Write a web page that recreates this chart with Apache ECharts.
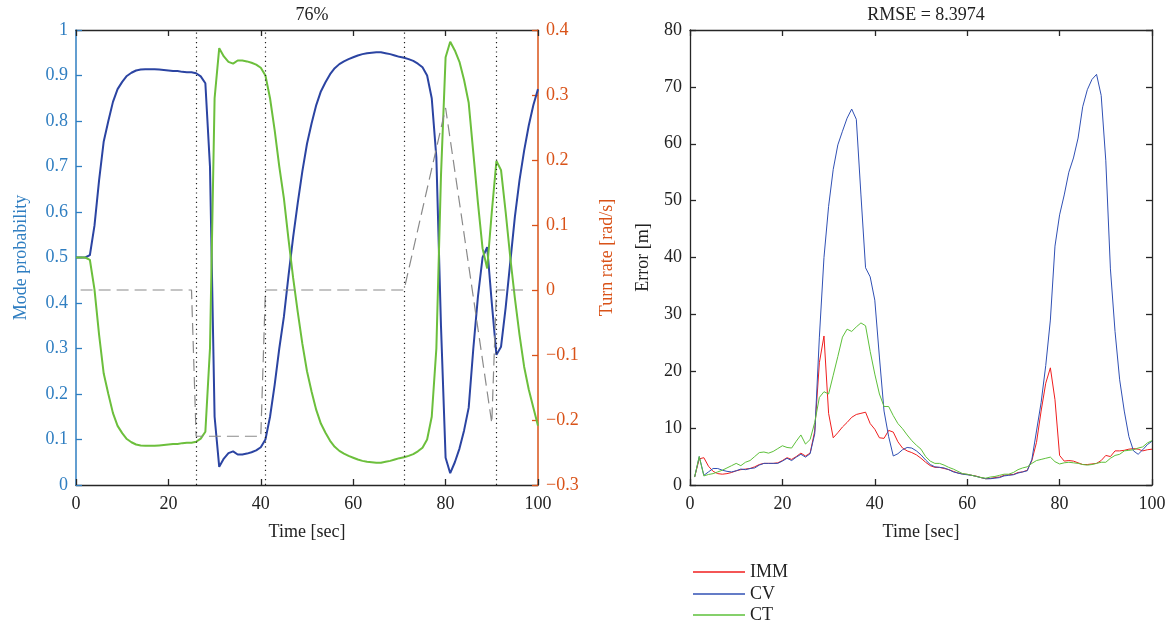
<!DOCTYPE html>
<html><head><meta charset="utf-8">
<script src="https://cdn.jsdelivr.net/npm/echarts@6/dist/echarts.min.js"></script>
<style>html,body{margin:0;padding:0;background:#fff}#c{width:1172px;height:626px}</style>
</head><body><div id="c"></div>
<script>
// ---------- data ----------
const modeTime = Array.from({length: 101}, (_, i) => i);
const cvModeProb = [
  0.5,0.5,0.5,0.505,0.57,0.67,0.755,0.80,0.842,0.87,
  0.886,0.899,0.906,0.911,0.913,0.914,0.914,0.914,0.913,0.912,
  0.911,0.910,0.910,0.908,0.907,0.907,0.905,0.898,0.883,0.70,
  0.15,0.04,0.058,0.07,0.074,0.067,0.067,0.069,0.072,0.076,
  0.083,0.10,0.15,0.22,0.30,0.37,0.46,0.545,0.62,0.69,
  0.75,0.795,0.835,0.865,0.885,0.903,0.916,0.925,0.931,0.936,
  0.94,0.944,0.947,0.949,0.95,0.951,0.951,0.949,0.947,0.944,
  0.941,0.939,0.936,0.932,0.926,0.918,0.90,0.85,0.72,0.35,
  0.06,0.026,0.05,0.08,0.12,0.17,0.30,0.414,0.50,0.523,
  0.40,0.286,0.304,0.39,0.49,0.59,0.67,0.735,0.79,0.835,
  0.87
];
const ctModeProb = [
  0.5,0.5,0.5,0.495,0.43,0.33,0.245,0.20,0.158,0.13,
  0.114,0.101,0.094,0.089,0.087,0.086,0.086,0.086,0.087,0.088,
  0.089,0.090,0.090,0.092,0.093,0.093,0.095,0.102,0.117,0.30,
  0.85,0.96,0.942,0.93,0.926,0.933,0.933,0.931,0.928,0.924,
  0.917,0.90,0.85,0.78,0.70,0.63,0.54,0.455,0.38,0.31,
  0.25,0.205,0.165,0.135,0.115,0.097,0.084,0.075,0.069,0.064,
  0.06,0.056,0.053,0.051,0.05,0.049,0.049,0.051,0.053,0.056,
  0.059,0.061,0.064,0.068,0.074,0.082,0.10,0.15,0.30,0.68,
  0.94,0.974,0.955,0.93,0.89,0.84,0.73,0.62,0.52,0.476,
  0.60,0.712,0.692,0.60,0.50,0.41,0.33,0.26,0.21,0.17,
  0.13
];
const switchTimes = [26, 41, 71, 91];
const turnTime = [1, 25, 26, 40, 41, 71, 80, 90, 91, 98];
const turnRate = [0, 0, -0.225, -0.225, 0, 0, 0.28, -0.205, 0, 0];

const errTime = Array.from({length: 100}, (_, i) => i + 1);
const errIMM = [
  1.4,4.6,4.8,3.3,2.4,2.0,1.9,2.0,2.2,2.5,
  2.7,2.8,2.9,3.2,3.6,3.8,3.8,3.8,3.9,4.3,
  4.8,4.5,5.0,5.6,5.1,5.6,9.5,21.5,26.2,12.6,
  8.3,9.2,10.2,11.0,11.9,12.4,12.6,12.8,10.8,9.8,
  8.3,8.2,9.6,9.3,7.6,6.5,6.0,5.7,5.3,4.7,
  4.0,3.4,3.1,3.1,2.9,2.7,2.4,2.1,1.95,1.85,
  1.7,1.55,1.3,1.1,1.15,1.3,1.4,1.7,1.8,1.85,
  2.2,2.3,2.6,4.3,7.5,13.0,17.9,20.6,15.0,5.2,
  4.2,4.3,4.2,3.9,3.6,3.6,3.7,3.8,4.3,5.2,
  5.0,6.0,6.0,6.1,6.3,6.4,6.3,6.0,6.2,6.3
];
const errCV = [
  1.4,5.0,1.7,2.3,2.9,2.9,2.6,2.4,2.3,2.5,
  2.8,2.7,2.9,3.0,3.5,3.8,3.8,3.8,3.8,4.2,
  4.7,4.3,4.9,5.4,4.9,5.5,9.0,26.0,40.0,49.0,
  55.5,59.8,62.2,64.5,66.1,64.3,51.0,38.2,36.6,32.5,
  22.5,13.0,8.5,5.1,5.5,6.2,6.6,6.5,6.0,5.3,
  4.4,3.6,3.2,3.1,3.0,2.7,2.3,2.1,1.9,1.8,
  1.7,1.5,1.3,1.1,1.1,1.2,1.3,1.6,1.7,1.8,
  2.1,2.3,2.5,4.5,9.5,14.5,21.0,29.0,42.0,47.5,
  51.0,55.0,57.5,61.0,66.5,69.5,71.3,72.2,68.5,57.0,
  38.0,27.0,18.5,13.0,8.5,6.0,5.4,6.2,7.1,7.7
];
const errCT = [
  1.4,5.0,1.6,1.85,2.0,2.3,2.6,3.0,3.4,3.8,
  3.4,4.0,4.3,5.0,5.7,5.8,5.6,5.9,6.4,6.9,
  6.6,6.5,7.7,8.8,7.2,8.0,11.0,15.4,16.4,16.0,
  19.3,22.6,26.0,27.4,27.0,27.8,28.5,28.0,23.5,19.5,
  16.0,13.8,13.8,12.2,10.8,9.9,8.8,7.8,7.0,6.3,
  5.0,4.2,3.8,3.8,3.5,3.1,2.8,2.4,2.0,1.9,
  1.7,1.5,1.3,1.2,1.4,1.5,1.7,1.9,1.9,2.2,
  2.7,3.0,3.2,3.8,4.3,4.5,4.7,4.9,4.1,3.7,
  3.9,4.0,3.9,3.8,3.6,3.5,3.6,3.8,4.0,4.0,
  4.7,5.2,5.4,6.0,6.1,6.2,6.5,6.7,7.4,7.8
];
const leftTitle = '76%';
const rightTitle = 'RMSE = 8.3974';
const seriesNames = ['IMM', 'CV', 'CT'];

// ---------- styles ----------
const FONT = 'Liberation Serif';
const BLUE_AX = '#2F7EC1';
const ORANGE = '#D95319';
const DARK = '#262626';
const pair = (xs, ys) => xs.map((x, i) => [x, ys[i]]);
const fmt = v => String(Math.round(v * 10) / 10).replace('-', '\u2212');

const baseX = (grid, pos, showLabel, name) => ({
  type: 'value', gridIndex: grid, position: pos, min: 0, max: 100, interval: 20,
  axisLine: {show: true, onZero: false, lineStyle: {color: DARK, width: 1.3}},
  axisTick: {show: true, inside: true, length: 6, lineStyle: {color: DARK, width: 1.3}},
  axisLabel: {show: showLabel, fontFamily: FONT, fontSize: 18, color: '#222', margin: 10},
  splitLine: {show: false},
  name: name || '', nameLocation: 'middle', nameGap: 38,
  nameTextStyle: {fontFamily: FONT, fontSize: 18, color: '#222'}
});
const legendTops = [558, 580, 601];
const legendOf = (name, i) => ({
  data: [name], orient: 'vertical', left: 688, top: legendTops[i],
  icon: 'rect', itemWidth: 52, itemHeight: 1.5, itemGap: 0,
  textStyle: {fontFamily: FONT, fontSize: 18, color: '#222'}
});

const option = {
  animation: false,
  backgroundColor: '#fff',
  title: [
    {text: leftTitle, left: 307, top: 1, textAlign: 'center',
     textStyle: {fontFamily: FONT, fontSize: 18, fontWeight: 'normal', color: '#222'}},
    {text: rightTitle, left: 921, top: 1, textAlign: 'center',
     textStyle: {fontFamily: FONT, fontSize: 18, fontWeight: 'normal', color: '#222'}}
  ],
  legend: seriesNames.map(legendOf),
  grid: [
    {left: 76, right: 634, top: 30, bottom: 141},
    {left: 690, right: 20, top: 30, bottom: 141}
  ],
  xAxis: [
    baseX(0, 'bottom', true, 'Time [sec]'),
    baseX(0, 'top', false),
    baseX(1, 'bottom', true, 'Time [sec]'),
    baseX(1, 'top', false)
  ],
  yAxis: [
    {type: 'value', gridIndex: 0, position: 'left', min: 0, max: 1, interval: 0.1,
     axisLine: {show: true, onZero: false, lineStyle: {color: BLUE_AX, width: 1.5}},
     axisTick: {show: true, inside: true, length: 6, lineStyle: {color: BLUE_AX, width: 1.3}},
     axisLabel: {fontFamily: FONT, fontSize: 18, color: BLUE_AX, margin: 8, formatter: fmt},
     splitLine: {show: false},
     name: 'Mode probability', nameLocation: 'middle', nameRotate: 90, nameGap: 46,
     nameTextStyle: {fontFamily: FONT, fontSize: 18, color: BLUE_AX}},
    {type: 'value', gridIndex: 0, position: 'right', min: -0.3, max: 0.4, interval: 0.1,
     axisLine: {show: true, onZero: false, lineStyle: {color: ORANGE, width: 1.5}},
     axisTick: {show: true, inside: true, length: 6, lineStyle: {color: ORANGE, width: 1.3}},
     axisLabel: {fontFamily: FONT, fontSize: 18, color: ORANGE, margin: 8, formatter: fmt},
     splitLine: {show: false},
     name: 'Turn rate [rad/s]', nameLocation: 'middle', nameRotate: 90, nameGap: 60,
     nameTextStyle: {fontFamily: FONT, fontSize: 18, color: ORANGE}},
    {type: 'value', gridIndex: 1, position: 'left', min: 0, max: 80, interval: 10,
     axisLine: {show: true, onZero: false, lineStyle: {color: DARK, width: 1.3}},
     axisTick: {show: true, inside: true, length: 6, lineStyle: {color: DARK, width: 1.3}},
     axisLabel: {fontFamily: FONT, fontSize: 18, color: '#222', margin: 8},
     splitLine: {show: false},
     name: 'Error [m]', nameLocation: 'middle', nameRotate: 90, nameGap: 38,
     nameTextStyle: {fontFamily: FONT, fontSize: 18, color: '#222'}},
    {type: 'value', gridIndex: 1, position: 'right', min: 0, max: 80, interval: 10,
     axisLine: {show: true, onZero: false, lineStyle: {color: DARK, width: 1.3}},
     axisTick: {show: true, inside: true, length: 6, lineStyle: {color: DARK, width: 1.3}},
     axisLabel: {show: false}, splitLine: {show: false}}
  ],
  series: [
    {type: 'line', name: 'CV mode', xAxisIndex: 0, yAxisIndex: 0, data: pair(modeTime, cvModeProb),
     symbol: 'none', lineStyle: {color: '#2B44A2', width: 2}, itemStyle: {color: '#2B44A2'},
     markLine: {symbol: 'none', silent: true, label: {show: false},
       lineStyle: {type: [1.2, 3.5], color: '#222', width: 1.2},
       data: switchTimes.map(t => ({xAxis: t}))}},
    {type: 'line', name: 'CT mode', xAxisIndex: 0, yAxisIndex: 0, data: pair(modeTime, ctModeProb),
     symbol: 'none', lineStyle: {color: '#6CBF3C', width: 2}, itemStyle: {color: '#6CBF3C'}},
    {type: 'line', name: 'Turn rate', xAxisIndex: 0, yAxisIndex: 1, data: pair(turnTime, turnRate),
     symbol: 'none', lineStyle: {color: '#8A8A8A', width: 1.2, type: [12, 6]}, itemStyle: {color: '#8A8A8A'}},
    {type: 'line', name: 'IMM', xAxisIndex: 2, yAxisIndex: 2, data: pair(errTime, errIMM),
     symbol: 'none', lineStyle: {color: '#F01E1E', width: 1}, itemStyle: {color: '#F01E1E'}},
    {type: 'line', name: 'CV', xAxisIndex: 2, yAxisIndex: 2, data: pair(errTime, errCV),
     symbol: 'none', lineStyle: {color: '#3050B4', width: 1}, itemStyle: {color: '#3050B4'}},
    {type: 'line', name: 'CT', xAxisIndex: 2, yAxisIndex: 2, data: pair(errTime, errCT),
     symbol: 'none', lineStyle: {color: '#5DC03A', width: 1}, itemStyle: {color: '#5DC03A'}}
  ]
};
const chart = echarts.init(document.getElementById('c'), null, {renderer: 'canvas'});
chart.setOption(option);
</script>
</body></html>
